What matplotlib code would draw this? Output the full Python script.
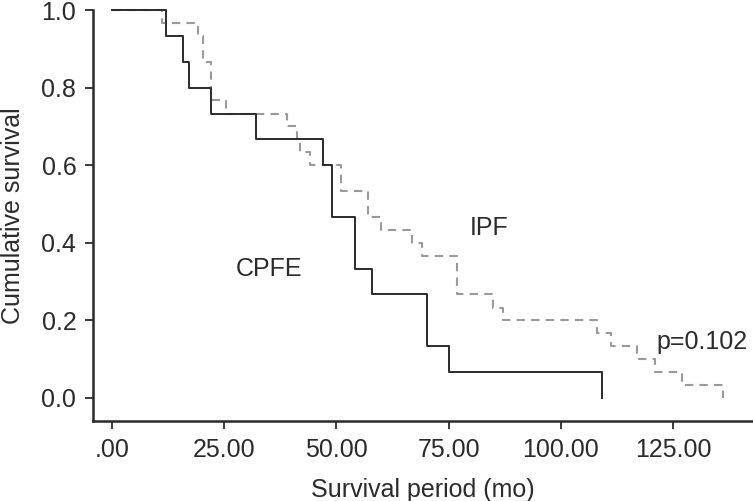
import matplotlib
matplotlib.use("Agg")
import matplotlib.pyplot as plt

# Kaplan-Meier steps (months, cumulative survival)
cpfe_time = [0, 12.0, 15.8, 17.1, 22.0, 32.1, 47.0, 49.0, 54.1, 57.9, 70.1, 75.1, 109.1]
cpfe_surv = [1.0, 0.933, 0.867, 0.800, 0.733, 0.667, 0.600, 0.467, 0.333, 0.267, 0.133, 0.067, 0.0]

ipf_time = [0, 11.1, 19.2, 20.3, 22.0, 25.4, 39.0, 41.2, 41.9, 44.1, 51.0, 57.0, 59.9,
            66.8, 69.0, 76.8, 84.9, 87.1, 108.0, 111.1, 116.9, 120.9, 126.9, 136.1]
ipf_surv = [1.0, 0.967, 0.933, 0.867, 0.767, 0.733, 0.700, 0.667, 0.633, 0.600, 0.533, 0.467, 0.433,
            0.400, 0.367, 0.267, 0.233, 0.200, 0.167, 0.133, 0.100, 0.067, 0.033, 0.0]

x_ticks = [0, 25, 50, 75, 100, 125]
x_labels = [".00", "25.00", "50.00", "75.00", "100.00", "125.00"]
y_ticks = [0.0, 0.2, 0.4, 0.6, 0.8, 1.0]
y_labels = ["0.0", "0.2", "0.4", "0.6", "0.8", "1.0"]

plt.rcParams['font.family'] = ['Liberation Sans', 'DejaVu Sans']
dark = '#2b2b2b'
fs = 18

fig = plt.figure(figsize=(7.53, 5.01), dpi=100)
ax = fig.add_axes([0.1235, 0.16, 0.875, 0.82])

ax.step(ipf_time, ipf_surv, where='post', color='#9a9a9a', lw=1.5,
        dashes=(4, 3), clip_on=False, zorder=2)
ax.step(cpfe_time, cpfe_surv, where='post', color=dark, lw=1.4,
        clip_on=False, zorder=3)

ax.set_xlim(-4.2, 142.5)
ax.set_ylim(-0.059, 1.0)

ax.set_xticks(x_ticks)
ax.set_xticklabels(x_labels)
ax.set_yticks(y_ticks)
ax.set_yticklabels(y_labels)

for s in ['top', 'right']:
    ax.spines[s].set_visible(False)
for s in ['left', 'bottom']:
    ax.spines[s].set_linewidth(1.8)
    ax.spines[s].set_color(dark)

ax.tick_params(axis='both', direction='out', length=6, width=1.3, color=dark,
               labelsize=fs, labelcolor=dark)
ax.tick_params(axis='x', pad=6)
ax.tick_params(axis='y', pad=6)

ax.set_xlabel("Survival period (mo)", fontsize=fs, color=dark, labelpad=12)
ax.set_ylabel("Cumulative survival", fontsize=fs, color=dark, labelpad=12)

ax.text(84, 0.438, "IPF", fontsize=fs, color=dark, ha='center', va='center')
ax.text(35, 0.332, "CPFE", fontsize=fs, color=dark, ha='center', va='center')
ax.text(131.4, 0.145, "p=0.102", fontsize=fs, color=dark, ha='center', va='center')

fig.savefig("out.png", dpi=100)
